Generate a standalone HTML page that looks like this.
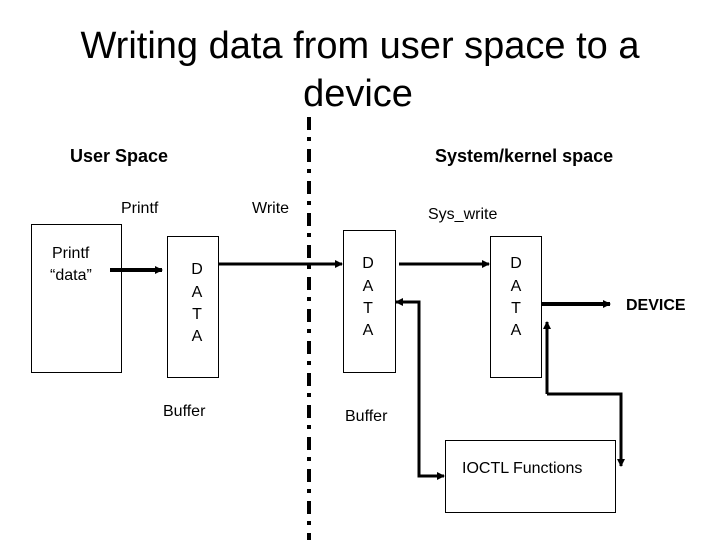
<!DOCTYPE html>
<html><head><style>
body{margin:0;background:#fff;}
svg{display:block;font-family:"Liberation Sans",Arial,sans-serif;}
</style></head><body>
<svg width="720" height="540" viewBox="0 0 720 540">
<defs>
<marker id="a" markerWidth="8" markerHeight="8" refX="7" refY="4" orient="auto" markerUnits="userSpaceOnUse"><path d="M0,0 L8,4 L0,8 z" fill="#000"/></marker>
</defs>
<text x="360" y="58" font-size="38" text-anchor="middle">Writing data from user space to a</text>
<text x="358" y="106" font-size="38" text-anchor="middle">device</text>
<line x1="309" y1="117" x2="309" y2="540" stroke="#000" stroke-width="4" stroke-dasharray="13,7,4,8"/>
<text x="70" y="162" font-size="18" font-weight="bold">User Space</text>
<text x="435" y="162" font-size="18" font-weight="bold">System/kernel space</text>
<text x="121" y="213" font-size="16">Printf</text>
<text x="252" y="213" font-size="16">Write</text>
<text x="428" y="219" font-size="16">Sys_write</text>
<g fill="none" stroke="#000" stroke-width="1">
<rect x="31.5" y="224.5" width="90" height="148"/>
<rect x="167.5" y="236.5" width="51" height="141"/>
<rect x="343.5" y="230.5" width="52" height="142"/>
<rect x="490.5" y="236.5" width="51" height="141"/>
<rect x="445.5" y="440.5" width="170" height="72"/>
</g>
<text x="52" y="258" font-size="16">Printf</text>
<text x="50" y="280" font-size="16">“data”</text>
<g font-size="16" text-anchor="middle">
<text x="197" y="274">D</text><text x="197" y="297">A</text><text x="197" y="319">T</text><text x="197" y="341">A</text>
<text x="368" y="268">D</text><text x="368" y="291">A</text><text x="368" y="313">T</text><text x="368" y="335">A</text>
<text x="516" y="268">D</text><text x="516" y="291">A</text><text x="516" y="313">T</text><text x="516" y="335">A</text>
</g>
<text x="163" y="416" font-size="16">Buffer</text>
<text x="345" y="421" font-size="16">Buffer</text>
<text x="626" y="310" font-size="16" font-weight="bold">DEVICE</text>
<text x="462" y="473" font-size="16">IOCTL Functions</text>
<g stroke="#000" fill="none">
<line x1="110" y1="270" x2="162" y2="270" stroke-width="4" marker-end="url(#a)"/>
<line x1="219" y1="264" x2="342" y2="264" stroke-width="3" marker-end="url(#a)"/>
<line x1="399" y1="264" x2="489" y2="264" stroke-width="3" marker-end="url(#a)"/>
<line x1="542" y1="304" x2="610" y2="304" stroke-width="4" marker-end="url(#a)"/>
<polyline points="418,302 419,302 419,476 444,476" stroke-width="3" marker-end="url(#a)"/>
<line x1="419" y1="302" x2="396" y2="302" stroke-width="3" marker-end="url(#a)"/>
<polyline points="547,394 621,394 621,466" stroke-width="3" marker-end="url(#a)"/>
<line x1="547" y1="394" x2="547" y2="322" stroke-width="3" marker-end="url(#a)"/>
</g>
</svg>
</body></html>
